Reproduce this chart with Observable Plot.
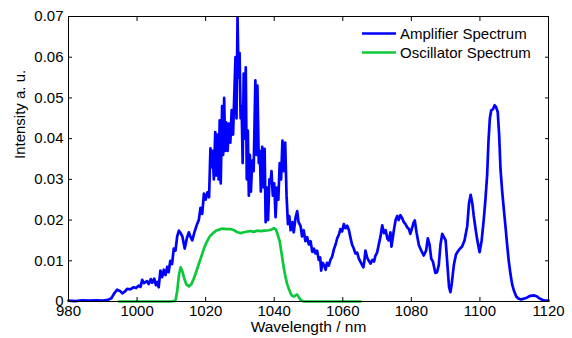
<!DOCTYPE html>
<html><head><meta charset="utf-8">
<script src="https://cdn.jsdelivr.net/npm/d3@7"></script>
<script src="https://cdn.jsdelivr.net/npm/@observablehq/plot@0.6"></script>
<style>
body{margin:0;background:#fff}
#chart{position:relative;width:572px;height:338px;overflow:hidden}
#chart svg{font-family:"Liberation Sans",Arial,sans-serif}
</style>
</head><body><div id="chart"></div>
<script>
const ampWavelength = [980,982,984,986,988,990,991.5,992.5,993.5,994.2,995,995.7,996.5,997.1,998,999,999.7,1000.5,1001,1001.5,1002,1002.9,1003.4,1004,1004.4,1005,1005.5,1005.9,1006.3,1006.8,1007.3,1007.8,1008.3,1008.8,1009.2,1009.7,1010.2,1010.7,1011.2,1011.7,1012.2,1012.7,1013.2,1013.9,1014.5,1015.1,1015.6,1016.1,1016.8,1017.5,1018,1018.5,1019,1019.5,1020,1020.5,1021,1021.4,1021.7,1022,1022.4,1022.8,1023.1,1023.5,1023.8,1024.1,1024.4,1024.8,1025.1,1025.4,1025.7,1026,1026.4,1026.8,1027.2,1027.6,1028,1028.4,1028.7,1029,1029.3,1029.6,1029.9,1030.2,1030.5,1030.8,1031.1,1031.4,1031.7,1032,1032.3,1032.6,1032.9,1033.2,1033.6,1034,1034.5,1034.8,1035.1,1035.5,1035.8,1036.1,1036.5,1036.9,1037.2,1037.5,1037.9,1038.2,1038.6,1038.9,1039.2,1039.6,1040,1040.4,1040.8,1041.2,1041.6,1042,1042.4,1042.8,1043.2,1043.6,1044,1044.4,1044.8,1045.3,1045.7,1046.2,1046.7,1047.1,1047.7,1048.1,1048.6,1049.1,1049.6,1050.1,1050.6,1051.1,1051.6,1052,1052.5,1053,1053.4,1053.7,1054.1,1054.5,1055,1055.4,1055.9,1056.4,1056.9,1057.4,1057.9,1058.4,1058.9,1059.3,1059.8,1060.3,1060.8,1061.3,1061.8,1062.2,1062.7,1063.2,1063.7,1064.2,1064.7,1065.2,1065.6,1066,1066.3,1066.6,1067.1,1067.6,1068.1,1068.6,1069.1,1069.5,1070,1070.5,1071,1071.5,1072,1072.5,1073,1073.4,1073.9,1074.2,1074.9,1075.4,1075.9,1076.3,1076.8,1077.3,1077.8,1078.3,1078.8,1079.3,1079.7,1080.2,1080.7,1081,1081.5,1082.2,1082.9,1083.6,1084.3,1084.8,1085.3,1085.8,1086.3,1087,1087.5,1088,1088.5,1089,1089.5,1090,1090.6,1091,1091.4,1091.8,1092.4,1093,1093.4,1094,1094.8,1095.5,1096.3,1096.8,1097.3,1097.8,1098.2,1098.7,1099.2,1099.9,1100.5,1101.1,1101.6,1102.1,1102.5,1102.9,1103.3,1103.8,1104.3,1104.7,1105.2,1105.6,1106,1106.5,1107,1107.5,1107.9,1108.4,1108.9,1109.4,1109.9,1110.6,1111.3,1112,1112.8,1113.8,1114.7,1115.7,1116.5,1117.3,1118.2,1119,1120];
const ampIntensity = [0.0002,0.0001,0.0003,0.0002,0.0003,0.0002,0.0004,0.0008,0.0022,0.0029,0.0026,0.002,0.0025,0.0031,0.003,0.0035,0.0033,0.0039,0.0036,0.0053,0.0045,0.005,0.0043,0.0055,0.0046,0.0056,0.004,0.0048,0.0035,0.0076,0.006,0.0078,0.0065,0.0085,0.0072,0.01,0.0092,0.013,0.0125,0.016,0.0174,0.0168,0.016,0.013,0.0155,0.017,0.0158,0.015,0.0172,0.019,0.02,0.023,0.0215,0.0265,0.025,0.0268,0.0256,0.0376,0.033,0.037,0.03,0.0416,0.031,0.041,0.03,0.0445,0.029,0.048,0.036,0.05,0.037,0.044,0.037,0.0437,0.039,0.047,0.041,0.052,0.06,0.045,0.0698,0.055,0.061,0.045,0.048,0.034,0.056,0.04,0.0575,0.03,0.042,0.026,0.036,0.027,0.0346,0.032,0.0543,0.036,0.053,0.034,0.037,0.027,0.038,0.028,0.0375,0.0195,0.028,0.02,0.03,0.029,0.032,0.026,0.029,0.0207,0.028,0.025,0.034,0.03,0.0395,0.032,0.039,0.026,0.019,0.021,0.0175,0.0195,0.017,0.0205,0.0222,0.0195,0.0185,0.016,0.0175,0.0148,0.0158,0.014,0.0148,0.0122,0.013,0.0118,0.0125,0.0102,0.0108,0.0076,0.0095,0.009,0.0078,0.0095,0.0088,0.0102,0.011,0.0128,0.014,0.0156,0.0165,0.0178,0.0172,0.019,0.018,0.0186,0.0175,0.0158,0.014,0.013,0.0118,0.012,0.0105,0.0097,0.009,0.0084,0.01,0.0125,0.0108,0.01,0.0093,0.0102,0.0098,0.0112,0.012,0.014,0.016,0.0187,0.0168,0.0175,0.0155,0.015,0.017,0.0135,0.0175,0.02,0.021,0.02,0.0212,0.0205,0.0195,0.019,0.0182,0.0178,0.0166,0.018,0.0195,0.0199,0.017,0.0138,0.0125,0.0113,0.0125,0.0155,0.014,0.0105,0.0098,0.007,0.0072,0.009,0.014,0.0166,0.0158,0.015,0.008,0.0035,0.0023,0.0045,0.009,0.0115,0.0121,0.0128,0.0135,0.015,0.0185,0.024,0.0262,0.024,0.021,0.018,0.0152,0.0121,0.015,0.02,0.025,0.031,0.0395,0.045,0.047,0.0472,0.0482,0.0478,0.0465,0.041,0.0325,0.027,0.0224,0.018,0.0142,0.01,0.0068,0.0042,0.0027,0.0012,0.0007,0.0005,0.0007,0.001,0.0014,0.0015,0.0013,0.0008,0.0004,0.0002,0.0002];
const oscWavelength = [994.7,1000,1005,1010,1011.2,1011.7,1012.2,1012.7,1013.2,1013.8,1014.4,1015.1,1015.8,1016.5,1017.2,1018,1018.8,1019.5,1020.3,1021.2,1022.2,1023,1024,1025,1026,1027.2,1028.3,1029.3,1030.2,1031.2,1032.2,1033.1,1034,1035,1036,1037.2,1038.4,1039.3,1039.9,1040.5,1041,1041.6,1042.3,1042.8,1043.3,1043.8,1044.3,1044.8,1045.2,1045.8,1046.3,1046.7,1047.2,1047.7,1048.6,1055,1060,1065.2];
const oscIntensity = [0,0,0,0,0.0002,0.0025,0.0065,0.0084,0.0075,0.0055,0.0042,0.0037,0.0042,0.0055,0.0072,0.0092,0.0112,0.013,0.0146,0.016,0.0168,0.0174,0.0177,0.0179,0.0178,0.0178,0.0175,0.017,0.0168,0.017,0.0172,0.0173,0.0171,0.0174,0.0173,0.0174,0.0175,0.0177,0.018,0.0177,0.0165,0.0148,0.011,0.0082,0.006,0.0042,0.003,0.002,0.0014,0.0012,0.0016,0.0017,0.001,0.0004,0,0,0,0];
const xTicks = [980,1000,1020,1040,1060,1080,1100,1120];
const yTicks = [0,0.01,0.02,0.03,0.04,0.05,0.06,0.07];
const seriesNames = ["Amplifier Spectrum","Oscillator Spectrum"];
const seriesColors = ["#0000ff","#0cc83a"];
const xLabel = "Wavelength / nm";
const yLabel = "Intensity a. u.";

const amp = ampWavelength.map((w,i)=>({w, v: ampIntensity[i]}));
const osc = oscWavelength.map((w,i)=>({w, v: oscIntensity[i]}));
const yFmt = d => d === 0 ? "0" : d.toFixed(2);
const xFmt = d => String(d);
const blank = () => "";

const chart = Plot.plot({
  width: 572, height: 338,
  marginLeft: 68, marginRight: 24, marginTop: 16, marginBottom: 37,
  style: {fontFamily: '"Liberation Sans",Arial,sans-serif', fontSize: "15px", color: "#000", background: "#fff"},
  x: {domain: [980,1120]},
  y: {domain: [0,0.07]},
  marks: [
    Plot.line(osc, {x: "w", y: "v", stroke: seriesColors[1], strokeWidth: 2.7, strokeLinejoin: "round"}),
    Plot.line(amp, {x: "w", y: "v", stroke: seriesColors[0], strokeWidth: 2.7, strokeLinejoin: "round"}),
    Plot.axisX(xTicks, {anchor: "bottom", tickSize: 0, tickPadding: 4, fontSize: 15, tickFormat: xFmt, label: null, fill: "#000"}),
    Plot.axisX(xTicks, {anchor: "bottom", tickSize: -4, tickFormat: blank, label: null}),
    Plot.axisX(xTicks, {anchor: "top", tickSize: -4, tickFormat: blank, label: null}),
    Plot.axisY(yTicks, {anchor: "left", tickSize: 0, tickPadding: 5, fontSize: 15, tickFormat: yFmt, label: null, fill: "#000"}),
    Plot.axisY(yTicks, {anchor: "left", tickSize: -4, tickFormat: blank, label: null}),
    Plot.axisY(yTicks, {anchor: "right", tickSize: -4, tickFormat: blank, label: null}),
    Plot.frame({stroke: "#000", strokeWidth: 1}),
    Plot.text([xLabel], {frameAnchor: "bottom", dy: 30, fontSize: 15.5, fill: "#000"}),
    Plot.text([yLabel], {frameAnchor: "left", dx: -48, rotate: -90, fontSize: 15, fill: "#000"})
  ]
});
document.getElementById("chart").appendChild(chart);

// legend (no box), top right inside the axes
const svg = d3.select(chart);
const lg = svg.append("g").attr("font-size", 15).attr("text-anchor", "start")
  .attr("font-family", '"Liberation Sans",Arial,sans-serif');
seriesNames.forEach((name, i) => {
  const cy = 33.5 + i * 19;
  lg.append("line").attr("x1", 362).attr("x2", 396).attr("y1", cy).attr("y2", cy)
    .attr("stroke", seriesColors[i]).attr("stroke-width", 2.6);
  lg.append("text").attr("x", 400).attr("y", cy).attr("dy", "0.35em")
    .attr("text-anchor", "start").attr("fill", "#000").text(name);
});
</script>
</body></html>
